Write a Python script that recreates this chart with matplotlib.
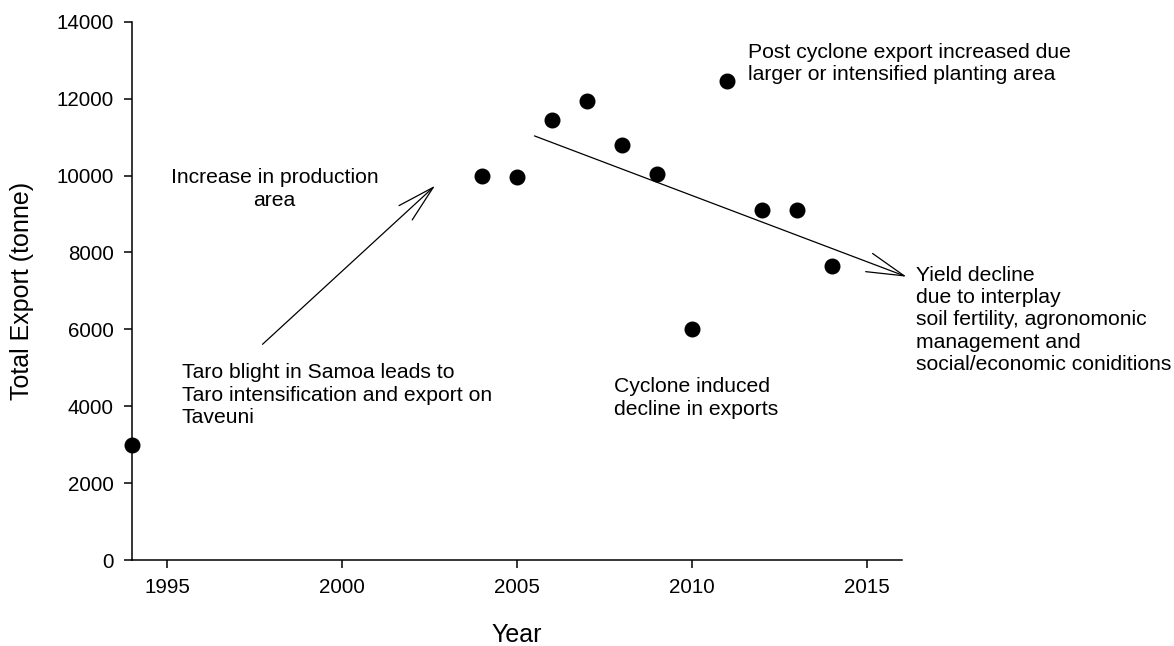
import matplotlib
matplotlib.use("Agg")
import matplotlib.pyplot as plt

plt.rcParams['font.family'] = ['Liberation Sans', 'DejaVu Sans']

# taro export data
years = [1994, 2004, 2005, 2006, 2007, 2008, 2009, 2010, 2011, 2012, 2013, 2014]
export = [3000, 10000, 9960, 11450, 11950, 10800, 10050, 6000, 12450, 9100, 9090, 7650]

x_ticks = [1995, 2000, 2005, 2010, 2015]
y_ticks = [0, 2000, 4000, 6000, 8000, 10000, 12000, 14000]

# annotation texts: (x, y, text, alignment)
notes = [
    (1998.07, 10190, "Increase in production\narea", "center"),
    (1995.42, 5115, "Taro blight in Samoa leads to\nTaro intensification and export on\nTaveuni", "left"),
    (2007.78, 4750, "Cyclone induced\ndecline in exports", "left"),
    (2011.59, 13450, "Post cyclone export increased due\nlarger or intensified planting area", "left"),
    (2016.39, 7655, "Yield decline\ndue to interplay\nsoil fertility, agronomonic\nmanagement and\nsocial/economic coniditions", "left"),
]

# arrows: (start, tip)
arrows = [
    ((1997.73, 5610), (2002.66, 9735)),
    ((2005.50, 11030), (2016.13, 7368)),
]

fig = plt.figure(figsize=(11.74, 6.46), dpi=100)
ax = fig.add_axes([0.1124, 0.1331, 0.6559, 0.8333])

ax.plot(years, export, 'o', color='black', markersize=10.5, clip_on=False, zorder=3)

for (x0, y0), (x1, y1) in arrows:
    ax.annotate('', xy=(x1, y1), xytext=(x0, y0), annotation_clip=False,
                arrowprops=dict(arrowstyle='->,head_length=1.35,head_width=0.35',
                                mutation_scale=20, lw=0.9, color='black',
                                shrinkA=0, shrinkB=0))

for x, y, s, ha in notes:
    ax.text(x, y, s, ha=ha, va='top', fontsize=15.2, multialignment=ha,
            linespacing=1.22, clip_on=False)

ax.set_xlim(1994, 2016)
ax.set_ylim(0, 14000)
ax.set_xticks(x_ticks)
ax.set_yticks(y_ticks)
ax.spines[['top', 'right']].set_visible(False)
ax.spines[['left', 'bottom']].set_linewidth(1.1)
ax.tick_params(direction='out', length=5.5, width=1.1, labelsize=14.8, pad=7.5)

ax.set_xlabel('Year', fontsize=18)
ax.set_ylabel('Total Export (tonne)', fontsize=18)
ax.xaxis.set_label_coords(0.5, -0.117)
ax.yaxis.set_label_coords(-0.127, 0.5)

fig.savefig('out.png', dpi=100)
